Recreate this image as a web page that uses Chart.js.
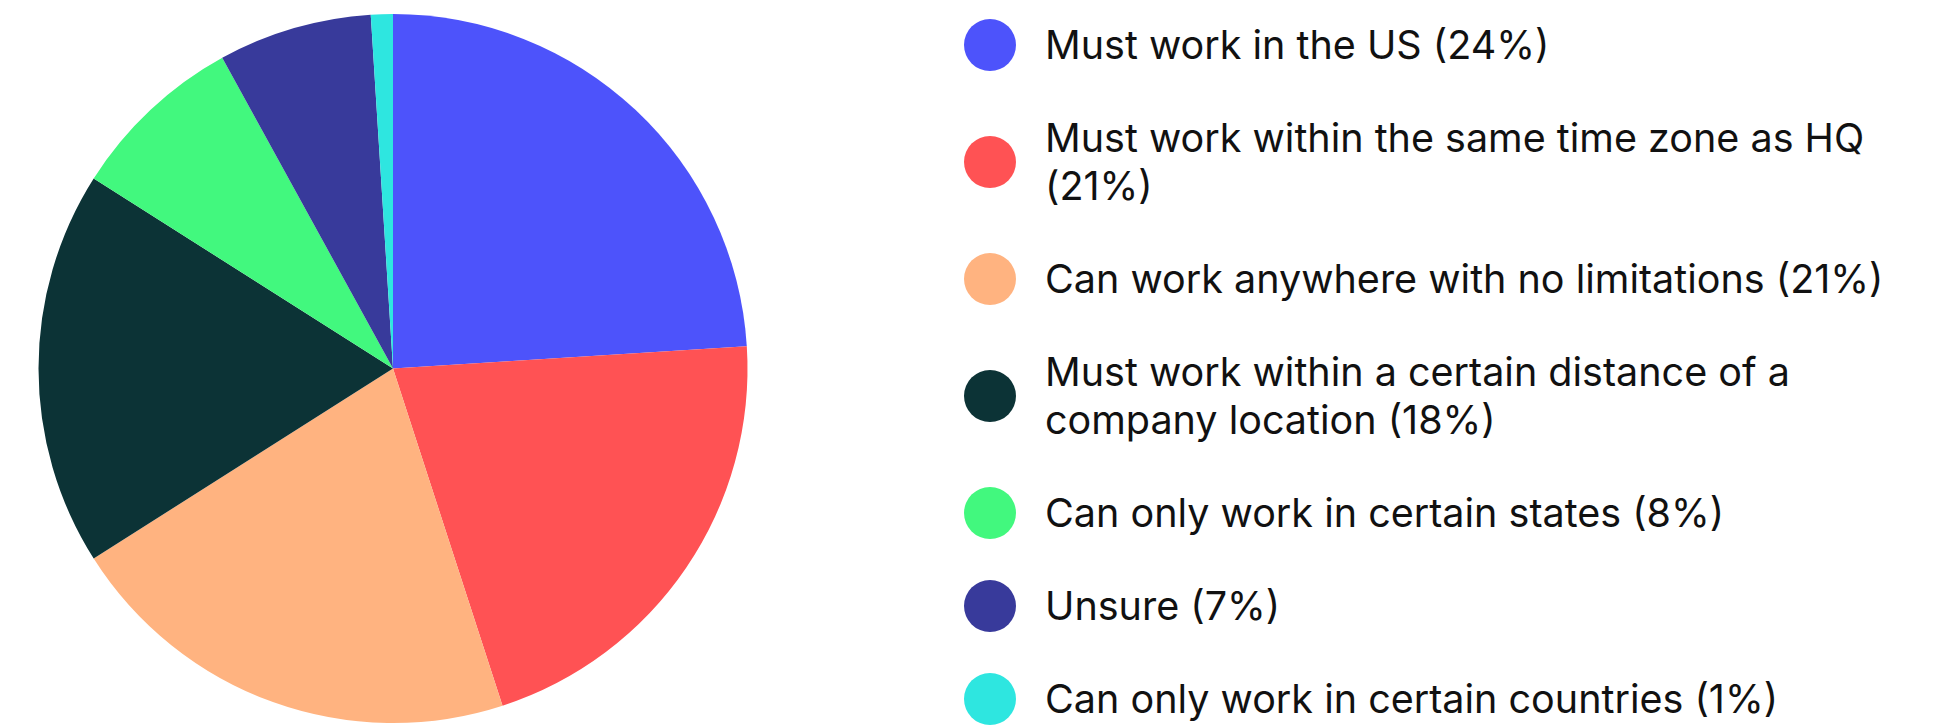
<!DOCTYPE html>
<html>
<head>
<meta charset="utf-8">
<script src="https://cdn.jsdelivr.net/npm/chart.js@4/dist/chart.umd.min.js"></script>
<style>
  body { margin: 0; background: #fff; font-family: Inter, "Noto Sans", sans-serif; }
  #page { position: relative; width: 1942px; height: 727px; overflow: hidden; }
  #pieBox { position: absolute; left: 0; top: 0; width: 786px; height: 727px; }
  #legend { position: absolute; left: 964px; top: 21px; width: 970px; }
  #legend ul { list-style: none; margin: 0; padding: 0; }
  #legend li { display: flex; align-items: center; margin-bottom: 45px; }
  #legend .dot { flex: 0 0 52px; width: 52px; height: 52px; border-radius: 50%; margin: -2px 29px -2px 0; }
  #legend .txt { font-size: 39.5px; line-height: 48px; color: #111; max-width: 900px; }
</style>
</head>
<body>
<div id="page">
  <div id="pieBox"><canvas id="pieChart"></canvas></div>
  <div id="legend"></div>
</div>
<script>
        // Datos del gráfico
        const categories = [
            'Must work in the US',
            'Must work within the same time zone as HQ',
            'Can work anywhere with no limitations',
            'Must work within a certain distance of a company location',
            'Can only work in certain states',
            'Unsure',
            'Can only work in certain countries'
        ];
        const shares = [24, 21, 21, 18, 8, 7, 1];
        const sliceColors = ['#4D53FB', '#FF5254', '#FFB380', '#0C3336', '#42F87E', '#383A9B', '#2EE6E0'];

        // Leyenda en HTML para poder cortar las líneas largas
        const htmlLegend = {
            id: 'htmlLegend',
            afterUpdate(chart) {
                const box = document.getElementById('legend');
                box.innerHTML = '';
                const list = document.createElement('ul');
                const items = chart.options.plugins.legend.labels.generateLabels(chart);
                items.forEach(item => {
                    const li = document.createElement('li');
                    const dot = document.createElement('span');
                    dot.className = 'dot';
                    dot.style.background = item.fillStyle;
                    const txt = document.createElement('span');
                    txt.className = 'txt';
                    txt.textContent = item.text + ' (' + shares[item.index] + '%)';
                    li.appendChild(dot);
                    li.appendChild(txt);
                    list.appendChild(li);
                });
                box.appendChild(list);
            }
        };

        new Chart(document.getElementById('pieChart'), {
            type: 'pie',
            data: {
                labels: categories,
                datasets: [{
                    data: shares,
                    backgroundColor: sliceColors,
                    borderWidth: 0
                }]
            },
            options: {
                responsive: true,
                maintainAspectRatio: false,
                animation: false,
                layout: { padding: { top: 14, bottom: 4 } },
                plugins: {
                    legend: { display: false },
                    tooltip: { enabled: false }
                }
            },
            plugins: [htmlLegend]
        });
</script>
</body>
</html>
